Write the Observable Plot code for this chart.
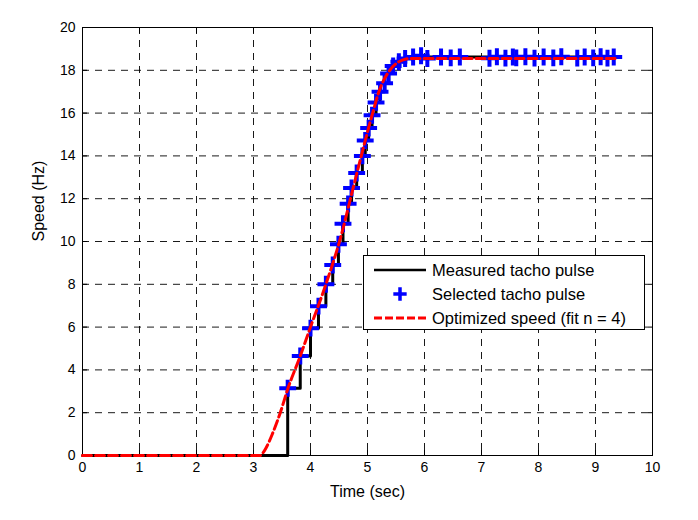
<!DOCTYPE html>
<html><head><meta charset="utf-8">
<script src="https://cdn.jsdelivr.net/npm/d3@7"></script>
<script src="https://cdn.jsdelivr.net/npm/@observablehq/plot@0.6"></script>
<style>
body{margin:0;background:#fff;}
#wrap{position:relative;width:698px;height:520px;font-family:"Liberation Sans",Arial,sans-serif;color:#000;}
#legend{position:absolute;left:363px;top:255px;}
</style>
</head><body>
<div id="wrap"><div id="chart"></div><div id="legend"></div></div>
<script>
// Measured tacho pulse (step curve): time (s), speed (Hz)
const measTime  = [0, 3.60, 3.82, 4.00, 4.14, 4.27, 4.39, 4.49, 4.57, 4.66, 4.72, 4.81, 4.91, 4.96, 5.02, 5.08, 5.15, 5.22, 5.30, 5.37, 5.45, 5.55, 5.66, 5.80, 9.35];
const measSpeed = [0, 3.14, 4.65, 5.95, 6.98, 8.00, 8.90, 9.87, 10.83, 11.76, 12.50, 13.20, 14.00, 14.72, 15.30, 15.90, 16.50, 17.00, 17.40, 17.85, 18.20, 18.40, 18.55, 18.62, 18.62];
// Selected tacho pulse
const selTime  = [3.60, 3.82, 4.00, 4.14, 4.27, 4.39, 4.49, 4.57, 4.66, 4.72, 4.81, 4.91, 4.96, 5.02, 5.08, 5.15, 5.22, 5.30, 5.37, 5.45, 5.55, 5.66, 5.80,
                  5.94, 6.05, 6.29, 6.46, 6.62, 7.14, 7.27, 7.42, 7.55, 7.61, 7.77, 7.93, 8.09, 8.26, 8.40, 8.68, 8.81, 8.96, 9.09, 9.21, 9.32];
const selSpeed = [3.14, 4.65, 5.95, 6.98, 8.00, 8.90, 9.87, 10.83, 11.76, 12.50, 13.20, 14.00, 14.72, 15.30, 15.90, 16.50, 17.00, 17.40, 17.85, 18.20, 18.40, 18.55, 18.62,
                  18.68, 18.55, 18.62, 18.58, 18.62, 18.56, 18.63, 18.57, 18.62, 18.58, 18.63, 18.57, 18.62, 18.58, 18.63, 18.57, 18.62, 18.58, 18.63, 18.57, 18.62];
// Optimized speed (fit n = 4)
const optTime  = [0, 3.12, 3.16, 3.22, 3.33, 3.47, 3.60, 3.82, 4.00, 4.27, 4.53, 4.72, 4.91, 5.09, 5.20, 5.39, 5.55, 5.75, 9.35];
const optSpeed = [0, 0, 0.1, 0.35, 1.0, 2.0, 3.1, 4.65, 6.0, 8.0, 10.2, 12.2, 14.2, 16.0, 17.0, 18.0, 18.4, 18.55, 18.55];
// Ticks and labels
const xTicks = [0,1,2,3,4,5,6,7,8,9,10];
const yTicks = [0,2,4,6,8,10,12,14,16,18,20];
const xLabel = "Time (sec)";
const yLabel = "Speed (Hz)";
const legendLabels = ["Measured tacho pulse", "Selected tacho pulse", "Optimized speed (fit n = 4)"];

const meas = measTime.map((t,i)=>({t, v: measSpeed[i]}));
const sel = selTime.map((t,i)=>({t, v: selSpeed[i]}));
const opt = optTime.map((t,i)=>({t, v: optSpeed[i]}));

const chart = Plot.plot({
  width: 698, height: 520,
  marginLeft: 82, marginRight: 46, marginTop: 27, marginBottom: 65,
  style: {fontFamily: "'Liberation Sans', Arial, sans-serif", fontSize: "14px", color: "#000", background: "#fff"},
  x: {domain: [0,10]},
  y: {domain: [0,20]},
  marks: [
    Plot.gridX(xTicks.slice(1,-1), {stroke: "#000", strokeOpacity: 1, strokeWidth: 0.9, strokeDasharray: "7,6"}),
    Plot.gridY(yTicks.slice(1,-1), {stroke: "#000", strokeOpacity: 1, strokeWidth: 0.9, strokeDasharray: "7,6"}),
    Plot.axisX(xTicks, {anchor: "bottom", tickSize: 0, tickPadding: 7, fontSize: 14, label: null}),
    Plot.axisY(yTicks, {anchor: "left", tickSize: 0, tickPadding: 7, fontSize: 14, label: null}),
    Plot.axisX(xTicks, {anchor: "bottom", tickSize: -5, tickFormat: () => "", label: null}),
    Plot.axisX(xTicks, {anchor: "top", tickSize: -5, tickFormat: () => "", label: null}),
    Plot.axisY(yTicks, {anchor: "left", tickSize: -5, tickFormat: () => "", label: null}),
    Plot.axisY(yTicks, {anchor: "right", tickSize: -5, tickFormat: () => "", label: null}),
    Plot.text([xLabel], {text: d => d, frameAnchor: "bottom", lineAnchor: "middle", dy: 36, fontSize: 16, fill: "#000"}),
    Plot.text([yLabel], {text: d => d, frameAnchor: "left", lineAnchor: "middle", rotate: -90, dx: -44, fontSize: 16, fill: "#000"}),
    Plot.frame({stroke: "#000", strokeWidth: 1}),
    Plot.line(meas, {x: "t", y: "v", curve: "step-after", stroke: "#000", strokeWidth: 3}),
    Plot.dot(sel, {x: "t", y: "v", symbol: "plus", r: 5.5, stroke: "#0000ff", strokeWidth: 4}),
    Plot.line(opt, {x: "t", y: "v", curve: "monotone-x", stroke: "#ff0000", strokeWidth: 3, strokeDasharray: "9,4"})
  ]
});
document.getElementById("chart").appendChild(chart);

// Legend (inside plot, as in reference)
const W = 282, H = 75;
const lg = d3.select("#legend").append("svg").attr("width", W).attr("height", H)
  .style("font-family", "'Liberation Sans', Arial, sans-serif");
lg.append("rect").attr("x",0.5).attr("y",0.5).attr("width",W-1).attr("height",H-1).attr("fill","#fff").attr("stroke","#000");
const rows = [15, 39, 63];
lg.append("line").attr("x1",11).attr("x2",63).attr("y1",rows[0]).attr("y2",rows[0]).attr("stroke","#000").attr("stroke-width",2.5);
lg.append("path").attr("d", d3.symbol(d3.symbolPlus, 60)()).attr("transform",`translate(37,${rows[1]})`).attr("fill","none").attr("stroke","#0000ff").attr("stroke-width",3.5);
lg.append("line").attr("x1",11).attr("x2",63).attr("y1",rows[2]).attr("y2",rows[2]).attr("stroke","#ff0000").attr("stroke-width",3).attr("stroke-dasharray","8,3");
legendLabels.forEach((s,i)=>{
  lg.append("text").attr("x",69).attr("y",rows[i]).attr("dy","0.35em").attr("font-size","16.5px").attr("fill","#000").text(s);
});
</script>
</body></html>
